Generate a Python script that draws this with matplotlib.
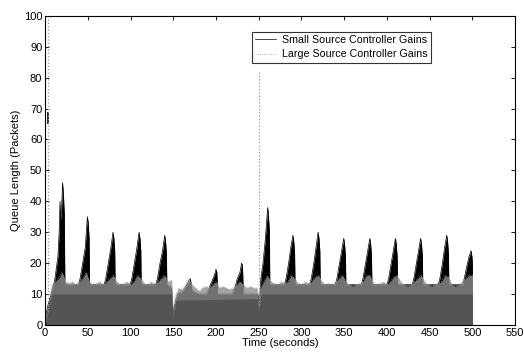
import matplotlib
matplotlib.use('Agg')
import matplotlib.pyplot as plt

plt.rcParams['font.family'] = ['Liberation Sans', 'DejaVu Sans']

# queue length envelope, small source controller gains (black)
small_t = [0, 1, 3, 5, 7, 9, 11, 13, 15, 16.5, 17.5, 18.3, 19.2, 20.5, 21.5, 22.5, 23.2,
           39, 41, 44, 47, 49.5, 50.5, 51.5, 52,
           69, 71, 74, 77, 79.5, 80.5, 81.5, 82,
           99.5, 101.5, 104.5, 107.5, 110, 111, 112, 112.5,
           129.5, 131.5, 134.5, 137.5, 140, 141, 142, 142.5, 148, 150,
           151, 155, 162, 166, 170, 172, 180,
           189, 192, 195, 198, 200, 201, 202,
           219, 222, 225, 228, 230, 231, 232, 249, 250,
           251, 252.5, 255, 257.5, 260.5, 261.5, 262.5, 263,
           280, 282, 285, 287.5, 290, 291, 292, 292.5,
           309.5, 311.5, 314.5, 317, 319.5, 320.5, 321.5, 322,
           339.5, 341.5, 344.5, 347, 349.5, 350.5, 351.5, 352,
           370, 372, 375, 377.5, 380, 381, 382, 382.5,
           400, 402, 405, 407.5, 410, 411, 412, 412.5,
           429.5, 431.5, 434.5, 437, 439.5, 440.5, 441.5, 442,
           460, 462, 465, 467.5, 470, 471, 472, 472.5,
           488.5, 490.5, 493.5, 496, 498.5, 499.5, 500, 500.2]
small_top = [0, 3, 6, 8, 10, 12, 14, 18, 22, 30, 40, 34, 37, 46, 42, 36, 13,
             13, 15, 20, 25, 35, 33, 28, 13,
             13, 15, 20, 25, 30, 28, 24, 13,
             13, 15, 20, 25, 30, 28, 24, 13,
             13, 15, 20, 24, 29, 27, 23, 13, 12, 2,
             6, 10, 11, 13, 15, 11, 10,
             10, 12, 14, 16, 18, 17, 10,
             10, 12, 15, 17, 20, 19, 10, 10, 5,
             8, 15, 20, 27, 38, 35, 30, 13,
             13, 15, 20, 25, 29, 27, 23, 13,
             13, 15, 20, 25, 30, 28, 24, 13,
             13, 15, 20, 24, 28, 26, 22, 13,
             13, 15, 20, 24, 28, 26, 22, 13,
             13, 15, 20, 24, 28, 26, 22, 13,
             13, 15, 20, 24, 28, 26, 22, 13,
             13, 15, 20, 25, 29, 27, 23, 13,
             13, 15, 19, 22, 24, 22, 20, 0]

# queue length envelope, large source controller gains (grey)
large_t = [0, 2, 5, 8, 12, 16, 20, 24, 28, 32, 36, 40, 44, 48, 52, 56, 60,
           64, 68, 72, 76, 80, 84, 88, 92, 96, 100, 104, 108, 112, 116, 120,
           124, 128, 132, 136, 140, 144, 148, 150, 152, 156, 160, 164, 168,
           172, 176, 180, 184, 188, 192, 196, 200, 204, 208, 212, 216, 220,
           224, 228, 232, 236, 240, 244, 248, 250, 252, 256, 260, 264, 268,
           272, 276, 280, 284, 288, 292, 296, 300, 304, 308, 312, 316, 320,
           324, 328, 332, 336, 340, 344, 348, 352, 356, 360, 364, 368, 372,
           376, 380, 384, 388, 392, 396, 400, 404, 408, 412, 416, 420, 424,
           428, 432, 436, 440, 444, 448, 452, 456, 460, 464, 468, 472, 476,
           480, 484, 488, 492, 496, 500, 500.2]
large_top = [1, 4, 7, 13, 14, 15, 17, 14, 13.5, 14, 13, 14, 15, 17, 14, 13,
             13.5, 14, 13, 14, 15, 16, 14, 13, 13.5, 14, 13, 14, 16, 15, 13.5,
             13, 14, 13, 14, 15, 16, 14, 14.5, 2, 9, 12, 11.5, 13, 15, 13, 12,
             11, 12, 12.5, 12, 13, 14, 12, 12.5, 12, 11.5, 12, 13, 14, 13, 12,
             12.5, 12, 12, 5, 12, 14, 16, 14, 13.5, 13, 14, 13.5, 14, 16, 15,
             13.5, 13, 14, 13.5, 14, 15.5, 16, 14, 13, 13.5, 13, 14, 15, 16,
             14, 13, 12.5, 13, 13.5, 14, 16, 16, 13.5, 13, 13.5, 14, 13, 14,
             15.5, 16, 14, 13, 12.5, 13, 14, 15, 16, 14, 13, 12.5, 13, 13.5,
             14, 16, 15.5, 13, 12.5, 13, 14, 15, 16, 16, 0]
large_solid_t = [0, 5, 8, 148, 150, 153, 248, 250, 253, 500, 500.2]
large_solid = [0, 6, 10, 10, 2, 8, 8.5, 5, 10, 10, 0]

# isolated large-gain spikes and the small-gain blip at start-up
spike_t = [3, 250.4]
spike_top = [100, 82]
blip_t = [3]
blip_lo = [65]
blip_hi = [69]

fig = plt.figure(figsize=(5.24, 3.52), dpi=100)
ax = fig.add_axes([0.086, 0.077, 0.897, 0.878])

ax.fill_between(small_t, 0, small_top, color='black', lw=0, zorder=1)
ax.plot(small_t, small_top, color='black', lw=0.5, zorder=1,
        label='Small Source Controller Gains')
ax.vlines(blip_t, blip_lo, blip_hi, color='black', lw=1.2, zorder=1)

ax.fill_between(large_t, 0, large_top, color='#8e8e8e', alpha=0.8, lw=0, zorder=2)
ax.fill_between(large_solid_t, 0, large_solid, color='#545454', lw=0, zorder=3)
ax.plot(large_t, large_top, ':', color='#9a9a9a', lw=0.6, zorder=2,
        label='Large Source Controller Gains')
ax.vlines(spike_t, 0, spike_top, color='#9a9a9a', lw=0.9, linestyles=':', zorder=2)

ax.set_xlim(0, 550)
ax.set_ylim(0, 100)
ax.set_xticks(range(0, 551, 50))
ax.set_yticks(range(0, 101, 10))
ax.tick_params(direction='in', top=True, right=True, length=3, width=0.6,
               labelsize=8, pad=2)
for s in ax.spines.values():
    s.set_linewidth(0.8)
    s.set_zorder(5)

ax.set_xlabel('Time (seconds)', fontsize=8, labelpad=0)
ax.set_ylabel('Queue Length (Packets)', fontsize=8, labelpad=2)

leg = ax.legend(loc='upper left', bbox_to_anchor=(0.44, 0.948), fontsize=7.7,
                frameon=True, fancybox=False, edgecolor='black',
                handlelength=2.0, borderpad=0.3, labelspacing=0.4,
                handletextpad=0.5, borderaxespad=0)
leg.get_frame().set_linewidth(0.8)

fig.savefig('out.png', dpi=100)
